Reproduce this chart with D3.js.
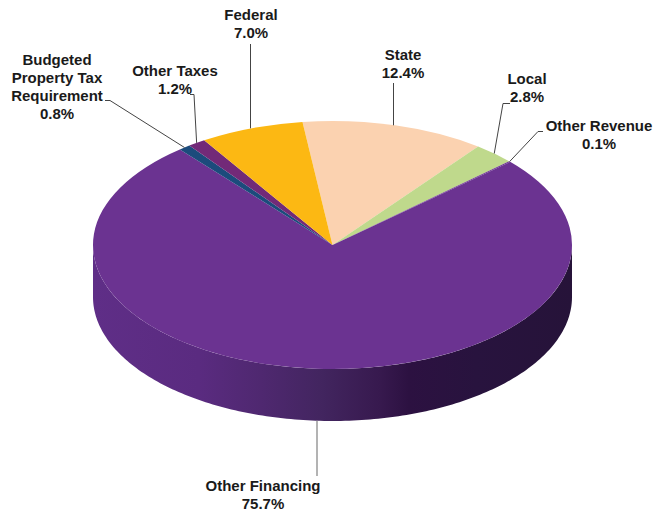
<!DOCTYPE html>
<html lang="en">
<head>
<meta charset="UTF-8">
<title>Revenue by Source</title>
<script src="https://d3js.org/d3.v7.min.js"></script>
<style>
    html, body { margin: 0; padding: 0; background: #fff; }
    svg { display: block; }
    text { font-family: "Liberation Sans", Arial, sans-serif; font-weight: bold; font-size: 15px; fill: #1a1a1a; text-anchor: middle; }
</style>
</head>
<body>
<svg width="656" height="517"></svg>
<script>
// clockwise, starting from the state slice
const categories = ["State", "Local", "Other Revenue", "Other Financing", "Budgeted Property Tax Requirement", "Other Taxes", "Federal"];
const shares = [12.4, 2.8, 0.1, 75.7, 0.8, 1.2, 7.0];
const colors = ["#fbd2b0", "#bfd98c", "#6b3391", "#6b3391", "#1c4b7c", "#722a78", "#fcb813"];
const labelLines = [["State"], ["Local"], ["Other Revenue"], ["Other Financing"], ["Budgeted", "Property Tax", "Requirement"], ["Other Taxes"], ["Federal"]];

// layout of the labels: centre x, first baseline, and leader start points
const labelX = [403, 527, 599, 263, 57, 175, 251];
const labelY = [60, 84, 131, 491, 65, 76, 20];
const leaderStart = [[393.5, 83], [510, 103.5], [543, 131.5], [317, 476], [105, 100.5], [190, 94.5], [250.5, 44]];
const leaderElbow = [null, [503, 103.5], [538, 131.5], null, [110, 100.5], [194, 94.5], null];

const cx = 332.5, cy = 245, rx = 239.5, ry = 124, depth = 52;
const start = -7.2 * Math.PI / 180;

const svg = d3.select("svg");

// rim of the tilted pie
const rimX = a => cx + rx * Math.sin(a);
const rimY = a => cy - ry * Math.cos(a);

const pie = d3.pie().sort(null).startAngle(start).endAngle(start + 2 * Math.PI);
const slices = pie(shares);

// side wall
const grad = svg.append("defs").append("linearGradient")
    .attr("id", "wall").attr("gradientUnits", "userSpaceOnUse")
    .attr("x1", cx - rx).attr("x2", cx + rx).attr("y1", 0).attr("y2", 0);
[[0, "#5f2e87"], [0.22, "#5a2b80"], [0.35, "#4f2870"], [0.48, "#42255f"], [0.6, "#37194e"], [0.66, "#2c1141"], [0.8, "#28133e"], [1, "#261339"]]
    .forEach(s => grad.append("stop").attr("offset", s[0]).attr("stop-color", s[1]));

const frontAngles = d3.range(90, 270.5, 1).map(d => d * Math.PI / 180);
const wall = d3.area().x(rimX).y0(rimY).y1(a => rimY(a) + depth);
svg.append("path").attr("d", wall(frontAngles)).attr("fill", "url(#wall)");

// top face, a flat pie squashed into an ellipse
const arc = d3.arc().innerRadius(0).outerRadius(rx);
svg.append("g")
    .attr("transform", "translate(" + cx + "," + cy + ") scale(1," + (ry / rx) + ")")
    .selectAll("path")
    .data(slices)
    .enter()
    .append("path")
    .attr("d", arc)
    .attr("fill", (d, i) => colors[i]);

// leader lines end on the rim at the middle of each slice, the ones with no elbow drop straight
const line = d3.line();
slices.forEach((d, i) => {
    const mid = (d.startAngle + d.endAngle) / 2;
    const front = Math.cos(mid) < 0;
    const endX = leaderElbow[i] ? rimX(mid) : leaderStart[i][0];
    const end = [endX, rimY(mid) + (front ? depth : 0)];
    const pts = [leaderStart[i]];
    if (leaderElbow[i]) pts.push(leaderElbow[i]);
    pts.push(end);
    svg.append("path")
        .attr("d", line(pts))
        .attr("fill", "none")
        .attr("stroke", front ? "#9a9a9a" : "#444")
        .attr("stroke-width", front ? 1.5 : 1);
});

// labels
const lineHeight = 18;
categories.forEach((c, i) => {
    const t = svg.append("text").attr("y", labelY[i]);
    labelLines[i].concat(shares[i].toFixed(1) + "%").forEach((s, j) => {
        t.append("tspan").attr("x", labelX[i]).attr("dy", j ? lineHeight : 0).text(s);
    });
});
</script>
</body>
</html>
